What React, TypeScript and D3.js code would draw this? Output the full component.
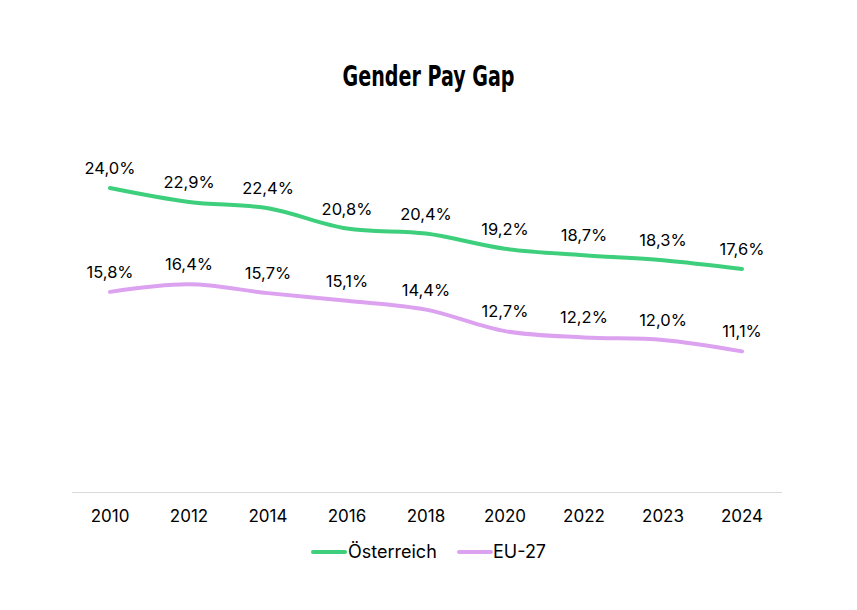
import React from 'react';
import * as d3 from 'd3';

const years = ['2010', '2012', '2014', '2016', '2018', '2020', '2022', '2023', '2024'];
const austria = [24.0, 22.9, 22.4, 20.8, 20.4, 19.2, 18.7, 18.3, 17.6];
const eu27 = [15.8, 16.4, 15.7, 15.1, 14.4, 12.7, 12.2, 12.0, 11.1];
const seriesNames = ['Österreich', 'EU-27'];
const seriesColors = ['#3ecf7d', '#dca2f0'];

const width = 857;
const height = 610;
const font = 'Inter, "Noto Sans", sans-serif';

const fmt = (v: number) => v.toFixed(1).replace('.', ',') + '%';

const App: React.FC = () => {
    const x = d3.scalePoint<string>().domain(years).range([110, 742]);
    const y = d3.scaleLinear().domain([0, 24]).range([492, 188]);

    const line = d3
        .line<number>()
        .x((_, i) => x(years[i]) as number)
        .y(d => y(d))
        .curve(d3.curveCatmullRom.alpha(0.5));

    const series = [austria, eu27];

    return (
        <svg width={width} height={height} style={{ position: 'absolute', left: 0, top: 0 }}>
            <rect width={width} height={height} fill="#fff" />
            <text
                x={width / 2}
                y={86}
                textAnchor="middle"
                fontFamily='"DejaVu Sans Condensed", "DejaVu Sans", sans-serif'
                fontWeight="bold"
                fontSize={29}
                fill="#000"
                textLength={172}
                lengthAdjust="spacingAndGlyphs"
            >
                Gender Pay Gap
            </text>

            <line x1={72} x2={782} y1={492.5} y2={492.5} stroke="#d9d9d9" strokeWidth={1} />
            {years.map(yr => (
                <text
                    key={yr}
                    x={x(yr)}
                    y={522}
                    textAnchor="middle"
                    fontFamily={font}
                    fontSize={17}
                    fill="#000"
                >
                    {yr}
                </text>
            ))}

            {series.map((vals, s) => (
                <g key={seriesNames[s]}>
                    <path
                        d={line(vals) || ''}
                        fill="none"
                        stroke={seriesColors[s]}
                        strokeWidth={4}
                        strokeLinecap="round"
                        strokeLinejoin="round"
                    />
                    {vals.map((v, i) => (
                        <text
                            key={i}
                            x={x(years[i])}
                            y={y(v) - 14}
                            textAnchor="middle"
                            fontFamily={font}
                            fontSize={16.5}
                            fill="#000"
                        >
                            {fmt(v)}
                        </text>
                    ))}
                </g>
            ))}

            <g fontFamily={font} fontSize={18} fill="#000">
                <line x1={313} x2={345} y1={552} y2={552} stroke={seriesColors[0]} strokeWidth={4} strokeLinecap="round" />
                <text x={348} y={558}>{seriesNames[0]}</text>
                <line x1={459} x2={491} y1={552} y2={552} stroke={seriesColors[1]} strokeWidth={4} strokeLinecap="round" />
                <text x={493} y={558}>{seriesNames[1]}</text>
            </g>
        </svg>
    );
};

export default App;
